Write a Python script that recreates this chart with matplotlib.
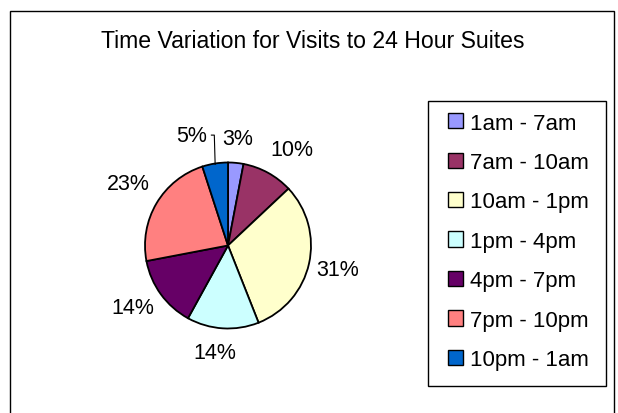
import matplotlib
matplotlib.use("Agg")
import matplotlib.pyplot as plt
import matplotlib.patches as mpatches
import numpy as np

plt.rcParams['font.family'] = ['Liberation Sans', 'DejaVu Sans']

title = "Time Variation for Visits to 24 Hour Suites"
categories = ["1am - 7am", "7am - 10am", "10am - 1pm", "1pm - 4pm",
              "4pm - 7pm", "7pm - 10pm", "10pm - 1am"]
values = [3, 10, 31, 14, 14, 23, 5]
colors = ["#9999FF", "#993366", "#FFFFCC", "#CCFFFF", "#660066", "#FF8080", "#0066CC"]

# label placement (layout only): radial distance and angular shift per slice
label_dist = [1.30, 1.395, 1.352, 1.30, 1.369, 1.42, 1.40]
label_shift = [0.0, -4.8, 0.0, -3.4, -3.2, -1.4, 9.3]

W, H = 618, 414
fig = plt.figure(figsize=(W / 100, H / 100), dpi=100)

# outer chart border
fig.patches.append(mpatches.Rectangle((10 / W, -0.05), 604 / W, 1 - 12 / H + 0.05,
                                      transform=fig.transFigure, fill=False,
                                      edgecolor="black", linewidth=1.0))

fig.text(313 / W, 1 - 42 / H, title, ha="center", va="center", fontsize=16.6)

# pie axes: center (228,246), radius 83 px
r = 83
ax = fig.add_axes([(228 - r) / W, 1 - (246.5 + r) / H, 2 * r / W, 2 * r / H])
wedges, texts, autotexts = ax.pie(values, colors=colors, startangle=90, counterclock=False,
                                  autopct=lambda p: f"{p:.0f}%", pctdistance=1.35,
                                  wedgeprops=dict(edgecolor="black", linewidth=1.3),
                                  textprops=dict(fontsize=15.5))
ax.set_xlim(-1, 1)
ax.set_ylim(-1, 1)
ax.set_aspect("equal")

for w, t, d, s in zip(wedges, autotexts, label_dist, label_shift):
    a = np.deg2rad((w.theta1 + w.theta2) / 2 + s)
    t.set_position((d * np.cos(a), d * np.sin(a)))

# leader line for the small 10pm-1am slice
w5 = wedges[6]
mid = np.deg2rad((w5.theta1 + w5.theta2) / 2)
x0 = np.cos(mid) * 0.99
ax.plot([x0, x0 - 0.01, x0 - 0.045], [np.sin(mid) * 0.99, 1.33, 1.33],
        color="black", linewidth=0.8, clip_on=False)

# legend with its own frame
fig.patches.append(mpatches.Rectangle((428 / W, 1 - 387 / H), 178 / W, 285 / H,
                                      transform=fig.transFigure, fill=False,
                                      edgecolor="black", linewidth=1.0))
handles = [mpatches.Patch(facecolor=c, edgecolor="black", linewidth=1.0) for c in colors]
leg = fig.legend(handles, categories, loc="upper left",
                 bbox_to_anchor=(448 / W, 1 - 113.5 / H),
                 fontsize=16, frameon=False,
                 handlelength=0.68, handleheight=0.68, handletextpad=0.3,
                 labelspacing=0.83, borderpad=0, borderaxespad=0)

fig.savefig("out.png", dpi=100)
